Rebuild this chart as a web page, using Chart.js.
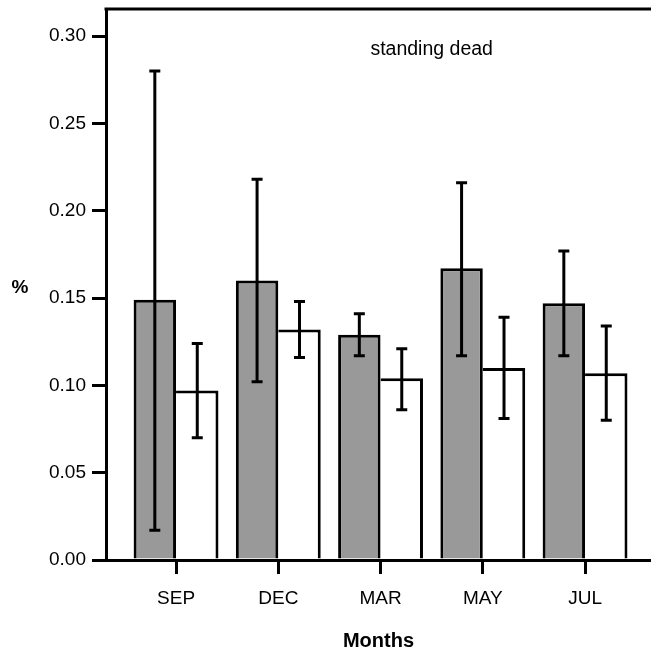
<!DOCTYPE html>
<html>
<head>
<meta charset="utf-8">
<script src="https://cdn.jsdelivr.net/npm/chart.js@4/dist/chart.umd.min.js"></script>
<style>
  body { margin: 0; background: #fff; }
  #wrap { width: 651px; height: 657px; }
</style>
</head>
<body>
<div id="wrap"><canvas id="chart" width="651" height="657"></canvas></div>
<script>
const months = ["SEP", "DEC", "MAR", "MAY", "JUL"];
const yTicks = [0, 0.05, 0.10, 0.15, 0.20, 0.25, 0.30];

// grey bars (first series) and white bars (second series)
const greyMean = [0.149, 0.160, 0.129, 0.167, 0.147];
const greyHigh = [0.280, 0.218, 0.141, 0.216, 0.177];
const greyLow  = [0.017, 0.102, 0.117, 0.117, 0.117];

const whiteMean = [0.097, 0.132, 0.104, 0.110, 0.107];
const whiteHigh = [0.124, 0.148, 0.121, 0.139, 0.134];
const whiteLow  = [0.070, 0.116, 0.086, 0.081, 0.080];

const fontFamily = "'Liberation Sans', Arial, sans-serif";
const black = "#000000";
const grey = "#999999";

const errorBars = {
    id: 'errorBars',
    afterDatasetsDraw(chart) {
        const ctx = chart.ctx;
        const y = chart.scales.y;
        const ranges = [[greyLow, greyHigh], [whiteLow, whiteHigh]];
        ctx.save();
        ctx.strokeStyle = black;
        ctx.lineWidth = 3;
        chart.data.datasets.forEach((ds, d) => {
            chart.getDatasetMeta(d).data.forEach((bar, i) => {
                const top = y.getPixelForValue(ranges[d][1][i]);
                const bottom = y.getPixelForValue(ranges[d][0][i]);
                ctx.beginPath();
                ctx.moveTo(bar.x, top);
                ctx.lineTo(bar.x, bottom);
                ctx.moveTo(bar.x - 5.5, top);
                ctx.lineTo(bar.x + 5.5, top);
                ctx.moveTo(bar.x - 5.5, bottom);
                ctx.lineTo(bar.x + 5.5, bottom);
                ctx.stroke();
            });
        });
        ctx.restore();
    }
};

const decorations = {
    id: 'decorations',
    afterDraw(chart) {
        const ctx = chart.ctx;
        const area = chart.chartArea;
        const x = chart.scales.x;
        const y = chart.scales.y;
        ctx.save();
        // top frame line
        ctx.strokeStyle = black;
        ctx.lineWidth = 3;
        ctx.beginPath();
        ctx.moveTo(area.left - 1.5, area.top);
        ctx.lineTo(area.right, area.top);
        ctx.stroke();

        ctx.fillStyle = black;
        ctx.textAlign = 'center';
        ctx.textBaseline = 'middle';
        ctx.font = "19.5px " + fontFamily;
        ctx.fillText("standing dead", x.getPixelForValue(2.5), y.getPixelForValue(0.292));

        ctx.font = "bold 19px " + fontFamily;
        ctx.fillText("%", 20, (area.top + area.bottom) / 2 + 3);
        ctx.restore();
    }
};

new Chart(document.getElementById('chart'), {
    type: 'bar',
    data: {
        datasets: [{
            data: greyMean.map((v, i) => ({ x: i, y: v })),
            backgroundColor: grey,
            borderColor: black,
            borderWidth: { left: 3, top: 3, right: 3, bottom: 0 },
            categoryPercentage: 0.83,
            barPercentage: 1.0
        }, {
            data: whiteMean.map((v, i) => ({ x: i, y: v })),
            backgroundColor: "#ffffff",
            borderColor: black,
            borderWidth: { left: 0, top: 3, right: 3, bottom: 0 },
            categoryPercentage: 0.83,
            barPercentage: 1.0
        }]
    },
    options: {
        responsive: false,
        animation: false,
        layout: { padding: { top: 9, left: 0, right: 0, bottom: 0 } },
        plugins: {
            legend: { display: false },
            tooltip: { enabled: false }
        },
        scales: {
            x: {
                type: 'linear',
                offset: false,
                min: -0.685,
                max: 4.645,
                afterBuildTicks: scale => { scale.ticks = months.map((m, i) => ({ value: i })); },
                afterFit: scale => { scale.height = 97; scale.paddingLeft = 0; scale.paddingRight = 0; },
                border: { display: true, color: black, width: 3 },
                grid: { offset: false, drawOnChartArea: false, color: black, lineWidth: 3, tickLength: 14 },
                ticks: {
                    color: black,
                    padding: 13,
                    font: { family: fontFamily, size: 19 },
                    callback: v => months[v]
                },
                title: {
                    display: true,
                    text: 'Months',
                    color: black,
                    font: { family: fontFamily, size: 20, weight: 'bold' },
                    padding: { top: 0, bottom: 4 }
                }
            },
            y: {
                min: 0,
                max: 0.3155,
                afterBuildTicks: scale => { scale.ticks = yTicks.map(v => ({ value: v })); },
                afterFit: scale => { scale.width = 106; scale.paddingTop = 0; scale.paddingBottom = 0; },
                border: { display: true, color: black, width: 3 },
                grid: { drawOnChartArea: false, color: black, lineWidth: 3, tickLength: 14 },
                ticks: {
                    color: black,
                    padding: 6,
                    font: { family: fontFamily, size: 19 },
                    callback: v => v.toFixed(2)
                }
            }
        }
    },
    plugins: [errorBars, decorations]
});
</script>
</body>
</html>
